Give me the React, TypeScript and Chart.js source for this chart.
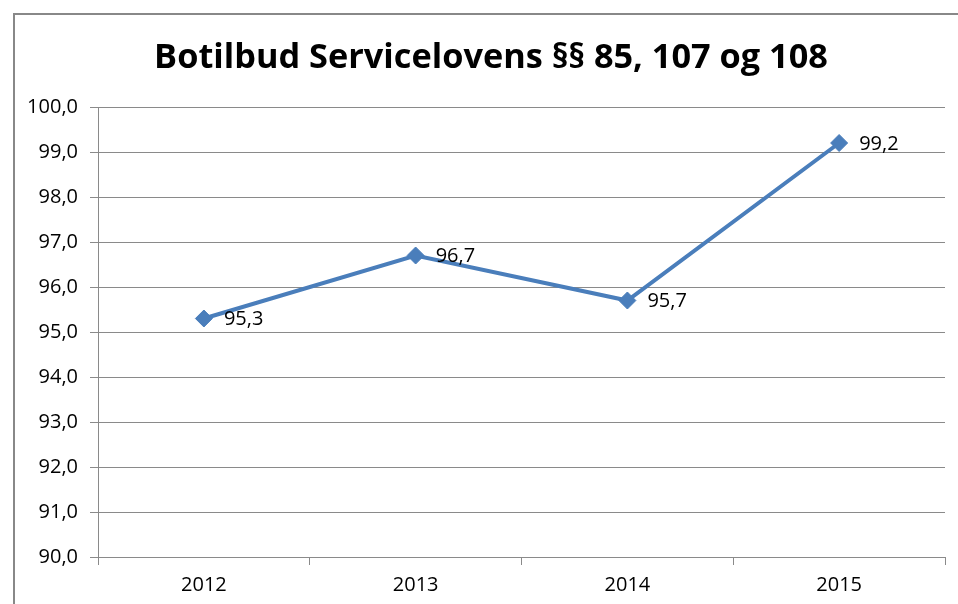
import React, { useEffect, useRef } from "react";
import { Chart, registerables } from "chart.js";

Chart.register(...registerables);

const TITLE = "Botilbud Servicelovens §§ 85, 107 og 108";
const categories = ["2012", "2013", "2014", "2015"];
const values = [95.3, 96.7, 95.7, 99.2];
const yMin = 90;
const yMax = 100;
const yStep = 1;

const FONT = "'Open Sans', 'Liberation Sans', sans-serif";
const GRID = "#8a8a8a";
const LINE = "#4a7ebb";

const fmt = (v: number) => v.toFixed(1).replace(".", ",");

const framePlugin = {
  id: "frame",
  beforeDraw(chart: any) {
    const ctx = chart.ctx;
    ctx.save();
    ctx.fillStyle = "#ffffff";
    ctx.fillRect(0, 0, chart.width, chart.height);
    ctx.strokeStyle = "#888888";
    ctx.lineWidth = 2;
    ctx.beginPath();
    ctx.moveTo(14, chart.height + 2);
    ctx.lineTo(14, 14);
    ctx.lineTo(chart.width + 2, 14);
    ctx.stroke();
    ctx.fillStyle = "#000000";
    ctx.font = `bold 34.3px ${FONT}`;
    ctx.textAlign = "center";
    ctx.textBaseline = "alphabetic";
    ctx.fillText(TITLE, 491, 68);
    ctx.restore();
  },
};

const labelPlugin = {
  id: "valueLabels",
  afterDatasetsDraw(chart: any) {
    const ctx = chart.ctx;
    ctx.save();
    ctx.font = `20px ${FONT}`;
    ctx.fillStyle = "#000000";
    ctx.textAlign = "left";
    ctx.textBaseline = "middle";
    chart.data.datasets.forEach((ds: any, di: number) => {
      const meta = chart.getDatasetMeta(di);
      meta.data.forEach((pt: any, i: number) => {
        ctx.fillText(fmt(ds.data[i]), pt.x + 20, pt.y + 1);
      });
    });
    ctx.restore();
  },
};

export default function App() {
  const ref = useRef<HTMLCanvasElement>(null);
  useEffect(() => {
    if (!ref.current) return;
    const chart = new Chart(ref.current, {
      type: "line",
      data: {
        labels: categories,
        datasets: [
          {
            data: values,
            borderColor: LINE,
            backgroundColor: LINE,
            borderWidth: 4,
            pointStyle: "rectRot",
            pointRadius: 8.5,
            pointBorderWidth: 1,
            pointBackgroundColor: LINE,
            pointBorderColor: LINE,
            tension: 0,
          },
        ],
      },
      options: {
        responsive: false,
        animation: false,
        layout: { padding: { top: 107, right: 13, left: 0, bottom: 0 } },
        plugins: { legend: { display: false }, tooltip: { enabled: false }, title: { display: false } },
        scales: {
          x: {
            offset: true,
            grid: {
              offset: true,
              drawOnChartArea: false,
              drawTicks: true,
              tickLength: 8,
              color: GRID,
            },
            border: { color: GRID },
            ticks: { color: "#000", font: { family: FONT, size: 20 }, padding: 8 },
            afterFit: (s: any) => {
              s.height = 47;
            },
          },
          y: {
            min: yMin,
            max: yMax,
            grid: { color: GRID, tickLength: 8 },
            border: { color: GRID },
            ticks: {
              stepSize: yStep,
              color: "#000",
              font: { family: FONT, size: 20 },
              padding: 12,
              callback: (v: any) => fmt(Number(v)),
            },
            afterFit: (s: any) => {
              s.width = 98;
            },
          },
        },
      },
      plugins: [framePlugin, labelPlugin],
    });
    return () => chart.destroy();
  }, []);
  return (
    <div style={{ position: "fixed", left: 0, top: 0, width: 958, height: 604, background: "#fff" }}>
      <canvas ref={ref} width={958} height={604} style={{ display: "block", width: 958, height: 604 }} />
    </div>
  );
}
